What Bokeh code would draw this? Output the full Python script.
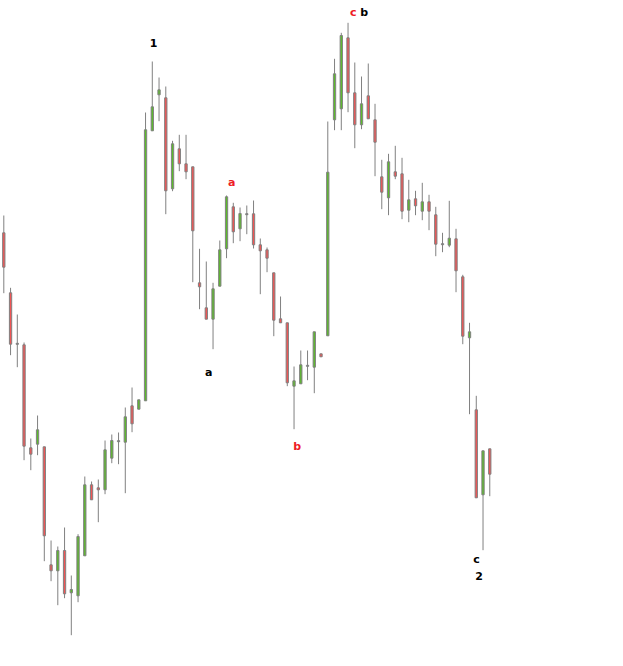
from bokeh.plotting import figure
from bokeh.models import ColumnDataSource
from bokeh.core.properties import value
from bokeh.embed import file_html
from bokeh.resources import INLINE

# OHLC (arbitrary price units)
opens = [427.7, 367.7, 316.7, 315.7, 212.7, 216.3, 213.7, 95.7, 89.7, 110.0,
         67.7, 64.7, 104.7, 175.7, 172.7, 170.7, 202.3, 219.3, 218.3, 254.7,
         251.3, 259.7, 529.7, 565.7, 562.7, 471.7, 511.7, 496.7, 493.7, 377.7,
         352.7, 341.3, 374.3, 411.7, 453.7, 431.7, 446.3, 446.7, 415.7, 410.7,
         387.7, 341.7, 337.7, 274.3, 276.7, 294.7, 293.3, 306.7, 324.7, 540.7,
         551.7, 622.7, 567.7, 535.7, 564.7, 540.7, 483.7, 462.7, 488.7, 486.7,
         450.3, 461.7, 449.3, 458.7, 445.7, 416.3, 415.3, 421.7, 383.7, 322.7,
         250.7, 165.7, 211.7]
highs = [445.0, 372.7, 346.0, 318.0, 222.0, 245.0, 213.7, 120.0, 114.0, 133.0,
         85.0, 126.3, 184.0, 179.0, 181.0, 220.0, 226.0, 228.0, 253.0, 273.0,
         260.7, 548.0, 599.0, 583.0, 574.0, 519.7, 525.7, 525.7, 493.7, 411.7,
         399.0, 377.7, 420.0, 465.0, 457.7, 453.0, 455.0, 460.0, 422.0, 413.0,
         387.7, 364.0, 337.7, 294.0, 310.0, 310.0, 328.7, 306.7, 539.0, 601.7,
         627.7, 637.7, 598.0, 584.0, 597.0, 556.7, 500.7, 506.7, 514.7, 502.7,
         480.7, 469.7, 477.7, 465.7, 453.7, 427.7, 459.7, 431.7, 385.7, 337.7,
         264.7, 209.7, 211.7]
lows = [367.3, 305.3, 293.3, 200.3, 190.3, 205.3, 99.3, 79.3, 55.3, 62.3,
        25.3, 58.3, 104.7, 160.7, 138.3, 166.3, 197.3, 196.3, 167.3, 228.3,
        251.3, 259.7, 529.7, 539.3, 446.3, 469.3, 489.3, 481.3, 378.3, 351.3,
        341.3, 311.3, 374.3, 402.3, 417.3, 419.3, 426.3, 412.0, 366.3, 388.3,
        324.3, 337.7, 274.3, 231.3, 276.7, 280.3, 267.3, 303.7, 324.7, 530.3,
        530.3, 548.3, 512.3, 531.3, 541.7, 484.3, 451.3, 445.3, 481.3, 441.3,
        438.3, 445.3, 440.3, 430.3, 404.3, 408.3, 413.3, 368.3, 316.3, 246.3,
        162.7, 110.3, 164.3]
closes = [393.3, 316.3, 316.7, 214.3, 206.3, 230.7, 124.7, 89.7, 110.0, 66.7,
          71.0, 124.0, 175.7, 160.7, 170.7, 210.7, 220.0, 219.3, 243.7, 236.7,
          260.7, 530.7, 553.7, 570.7, 469.7, 516.7, 496.7, 488.7, 429.7, 373.7,
          341.3, 371.7, 410.7, 463.7, 428.7, 447.0, 446.3, 415.7, 409.7, 402.3,
          340.3, 337.7, 277.7, 279.7, 295.7, 294.7, 328.7, 303.7, 488.3, 586.7,
          625.0, 567.7, 535.7, 556.7, 541.7, 518.3, 468.3, 498.7, 484.3, 449.3,
          460.7, 454.7, 458.7, 449.3, 416.3, 416.3, 422.3, 389.7, 324.3, 328.7,
          162.7, 209.7, 186.3]

# wave labels
label_text = ["1", "a", "a", "b", "c", "b", "c", "2"]
label_bar = [22.18, 33.78, 30.37, 43.47, 51.76, 53.39, 70.03, 70.43]
label_price = [618.0, 478.3, 288.3, 214.0, 648.3, 648.3, 100.7, 85.0]
label_color = ["#000000", "#ee1c25", "#000000", "#ee1c25", "#ee1c25", "#000000", "#000000", "#000000"]

RED = "#f05555"
GREEN = "#5cba2c"
GRAY = "#808080"

idx = list(range(len(opens)))
tops, bottoms, fills = [], [], []
for o, c in zip(opens, closes):
    t, b = max(o, c), min(o, c)
    if t - b < 1:
        mid = (t + b) / 2
        t, b = mid + 0.5, mid - 0.5
    tops.append(t)
    bottoms.append(b)
    fills.append(GREEN if c > o else (RED if c < o else GRAY))

src = ColumnDataSource(dict(x=idx, high=highs, low=lows, top=tops, bottom=bottoms, fill=fills))
lab = ColumnDataSource(dict(x=label_bar, y=label_price, text=label_text, color=label_color))

p = figure(width=623, height=666, x_range=(-1.082, 91.22), y_range=(-2, 664),
           toolbar_location=None, output_backend="svg", min_border=0)
p.margin = (-4, 0, 0, -4)
p.axis.visible = False
p.grid.visible = False
p.outline_line_color = None
p.background_fill_color = "white"

p.segment(x0="x", y0="high", x1="x", y1="low", source=src, line_color=GRAY, line_width=1)
p.vbar(x="x", top="top", bottom="bottom", width=0.34, source=src,
       fill_color="fill", line_color=GRAY, line_width=1)

p.text(x="x", y="y", text="text", source=lab, text_color="color",
       text_font=value("DejaVu Sans"), text_font_style="bold", text_font_size="11px",
       text_align="center", text_baseline="middle")

open("out.html", "w").write(file_html(p, INLINE))
